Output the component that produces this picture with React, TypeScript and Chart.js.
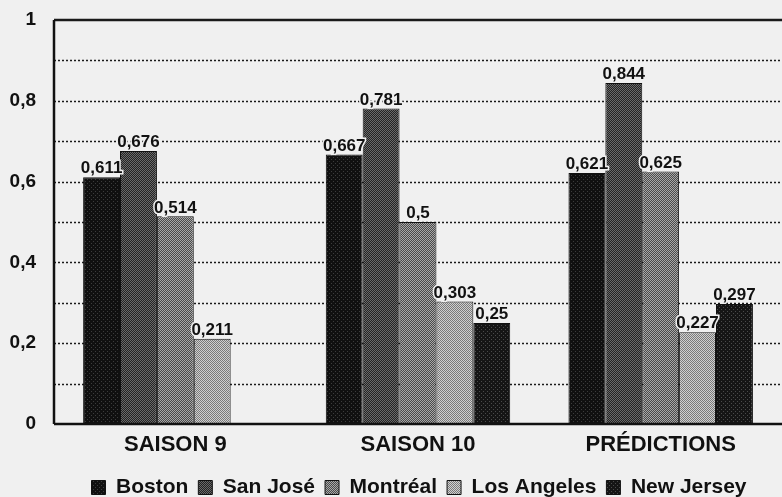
import React, { useEffect, useRef } from "react";
import { Chart, registerables } from "chart.js";

Chart.register(...registerables);

const categories = ["SAISON 9", "SAISON 10", "PRÉDICTIONS"];
const seriesNames = ["Boston", "San José", "Montréal", "Los Angeles", "New Jersey"];
const boston = [0.611, 0.667, 0.621];
const sanJose = [0.676, 0.781, 0.844];
const montreal = [0.514, 0.5, 0.625];
const losAngeles = [0.211, 0.303, 0.227];
const newJersey: (number | null)[] = [null, 0.25, 0.297];
const yTicks = [0, 0.2, 0.4, 0.6, 0.8, 1];

const FONT = "'Liberation Sans', Arial, sans-serif";
const BG = "#f0f0f0";

type PatternSpec = { base: string; fg: string; kind: "dots" | "checker" | "diag" };
const patternSpecs: PatternSpec[] = [
  { base: "#101010", fg: "#3c3c3c", kind: "dots" },
  { base: "#242424", fg: "#6a6a6a", kind: "checker" },
  { base: "#4a4a4a", fg: "#a8a8a8", kind: "checker" },
  { base: "#7a7a7a", fg: "#d0d0d0", kind: "diag" },
  { base: "#151515", fg: "#4a4a4a", kind: "dots" },
];

function makePattern(spec: PatternSpec): CanvasPattern | string {
  const c = document.createElement("canvas");
  c.width = 4;
  c.height = 4;
  const g = c.getContext("2d");
  if (!g) return spec.base;
  g.fillStyle = spec.base;
  g.fillRect(0, 0, 4, 4);
  g.fillStyle = spec.fg;
  if (spec.kind === "dots") {
    g.fillRect(1, 1, 1, 1);
    g.fillRect(3, 3, 1, 1);
  } else if (spec.kind === "checker") {
    for (let y = 0; y < 4; y++)
      for (let x = 0; x < 4; x++) if ((x + y) % 2 === 0) g.fillRect(x, y, 1, 1);
  } else {
    for (let i = 0; i < 4; i++) {
      g.fillRect(i, 3 - i, 1, 1);
      g.fillRect((i + 2) % 4, 3 - i, 1, 1);
    }
  }
  const p = g.createPattern(c, "repeat");
  return p || spec.base;
}

const fmt = (v: number) => String(v).replace(".", ",");

const gridPlugin = {
  id: "customGrid",
  afterLayout(chart: any) {
    if (chart.legend) {
      chart.legend.left += 24;
      chart.legend.right += 24;
    }
  },
  beforeDatasetsDraw(chart: any) {
    const { ctx, chartArea, scales, width } = chart;
    const y = scales.y;
    ctx.save();
    ctx.strokeStyle = "#1a1a1a";
    ctx.lineWidth = 1.5;
    ctx.setLineDash([2, 2]);
    for (let i = 1; i < 10; i++) {
      const py = Math.round(y.getPixelForValue(i / 10)) + 0.5;
      ctx.beginPath();
      ctx.moveTo(chartArea.left, py);
      ctx.lineTo(width, py);
      ctx.stroke();
    }
    ctx.setLineDash([]);
    ctx.lineWidth = 2.5;
    const top = y.getPixelForValue(1);
    ctx.beginPath();
    ctx.moveTo(chartArea.left, top);
    ctx.lineTo(width, top);
    ctx.stroke();
    ctx.restore();
  },
  afterDatasetsDraw(chart: any) {
    const { ctx, chartArea, scales, width } = chart;
    const y = scales.y;
    ctx.save();
    ctx.strokeStyle = "#111";
    ctx.lineWidth = 2.5;
    const bottom = y.getPixelForValue(0);
    const top = y.getPixelForValue(1);
    ctx.beginPath();
    ctx.moveTo(chartArea.left, top);
    ctx.lineTo(chartArea.left, bottom);
    ctx.moveTo(chartArea.left, bottom);
    ctx.lineTo(width, bottom);
    ctx.stroke();
    // data labels
    ctx.font = `bold 17px ${FONT}`;
    ctx.textAlign = "center";
    ctx.textBaseline = "bottom";
    chart.data.datasets.forEach((ds: any, di: number) => {
      const meta = chart.getDatasetMeta(di);
      meta.data.forEach((el: any, i: number) => {
        const v = ds.data[i];
        if (v === null || v === undefined) return;
        const t = fmt(v);
        ctx.lineWidth = 3;
        ctx.strokeStyle = BG;
        ctx.strokeText(t, el.x, el.y);
        ctx.fillStyle = "#111";
        ctx.fillText(t, el.x, el.y);
      });
    });
    ctx.restore();
  },
};

export default function App() {
  const ref = useRef<HTMLCanvasElement | null>(null);
  useEffect(() => {
    document.documentElement.style.overflow = "hidden";
    document.body.style.overflow = "hidden";
    document.body.style.margin = "0";
    document.body.style.background = BG;
    if (!ref.current) return;
    const series = [boston, sanJose, montreal, losAngeles, newJersey];
    const chart = new Chart(ref.current, {
      type: "bar",
      data: {
        labels: categories,
        datasets: series.map((d, i) => ({
          label: seriesNames[i],
          data: d,
          backgroundColor: makePattern(patternSpecs[i]) as any,
          borderColor: "#111",
          borderWidth: 1,
          categoryPercentage: 0.76,
          barPercentage: 1,
        })),
      },
      options: {
        animation: false,
        responsive: true,
        maintainAspectRatio: false,
        layout: { padding: { top: 0, right: 0, left: 8, bottom: 0 } },
        plugins: {
          tooltip: { enabled: false },
          legend: {
            position: "bottom",
            labels: {
              boxWidth: 14,
              boxHeight: 14,
              color: "#111",
              padding: 10,
              font: { family: FONT, size: 21, weight: "bold" },
            },
          },
        },
        scales: {
          x: {
            grid: { display: false, drawTicks: false },
            border: { display: false },
            afterFit: (scale: any) => {
              scale.height = 43;
            },
            ticks: {
              color: "#111",
              padding: 8,
              font: { family: FONT, size: 22, weight: "bold" },
            },
          },
          y: {
            min: 0,
            max: 1,
            grid: { display: false, drawTicks: false },
            border: { display: false },
            afterBuildTicks: (scale: any) => {
              scale.ticks = yTicks.map((v) => ({ value: v }));
            },
            afterFit: (scale: any) => {
              scale.width = 46;
              scale.paddingTop = 20;
              scale.paddingBottom = 12;
            },
            ticks: {
              color: "#111",
              padding: 18,
              callback: (v: any) => fmt(Number(v)),
              font: { family: FONT, size: 19, weight: "bold" },
            },
          },
        },
      },
      plugins: [gridPlugin],
    });
    return () => chart.destroy();
  }, []);
  return (
    <div style={{ width: 782, height: 508, position: "relative" }}>
      <canvas ref={ref} />
    </div>
  );
}
